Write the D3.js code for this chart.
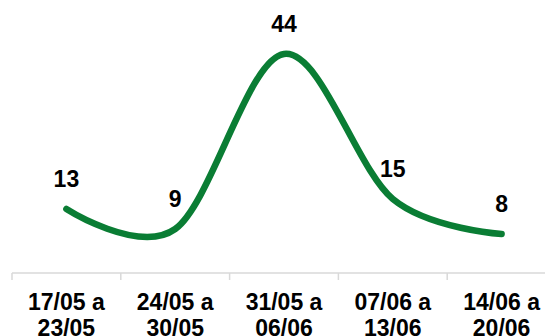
<!DOCTYPE html>
<html>
<head>
<meta charset="utf-8">
<script src="https://cdnjs.cloudflare.com/ajax/libs/d3/7.8.5/d3.min.js"></script>
<style>
  html, body { margin: 0; padding: 0; background: #fff; }
  svg { display: block; }
  text { font-family: "Liberation Sans", Arial, sans-serif; font-weight: bold; fill: #000; }
</style>
</head>
<body>
<svg id="chart" width="545" height="336"></svg>
<script>
// Weekly periods (two-line labels) and the count for each week
const periodStart = ["17/05 a", "24/05 a", "31/05 a", "07/06 a", "14/06 a"];
const periodEnd = ["23/05", "30/05", "06/06", "13/06", "20/06"];
const counts = [13, 9, 44, 15, 8];

const svg = d3.select("#chart");
const W = 545, H = 336;
const axisY = 273;

const x = d3.scaleBand()
  .domain(d3.range(periodStart.length))
  .range([12, 556])
  .paddingInner(0).paddingOuter(0);

const y = d3.scaleLinear().domain([0, 50]).range([274, 24]);

// Category axis: light baseline with ticks at band boundaries
const axisG = svg.append("g");
axisG.append("line")
  .attr("x1", x.range()[0]).attr("x2", x.range()[1])
  .attr("y1", axisY).attr("y2", axisY)
  .attr("stroke", "#d9d9d9").attr("stroke-width", 1.5);
const boundaries = d3.range(periodStart.length + 1).map(i => x.range()[0] + i * x.step());
axisG.selectAll(".tick").data(boundaries).join("line")
  .attr("class", "tick")
  .attr("x1", d => d).attr("x2", d => d)
  .attr("y1", axisY).attr("y2", axisY + 7)
  .attr("stroke", "#d9d9d9").attr("stroke-width", 1.5);

const labels = axisG.selectAll(".cat").data(periodStart).join("text")
  .attr("class", "cat")
  .attr("text-anchor", "middle")
  .attr("font-size", 23)
  .attr("x", (d, i) => x(i) + x.bandwidth() / 2)
  .attr("y", 310);
labels.append("tspan").text(d => d);
labels.append("tspan")
  .attr("x", (d, i) => x(i) + x.bandwidth() / 2)
  .attr("dy", 26)
  .text((d, i) => periodEnd[i]);

// Smoothed line
const line = d3.line()
  .x((d, i) => x(i) + x.bandwidth() / 2)
  .y(d => y(d))
  .curve(d3.curveCardinal.tension(0));

svg.append("path")
  .datum(counts)
  .attr("d", line)
  .attr("fill", "none")
  .attr("stroke", "#0a7d34")
  .attr("stroke-width", 6.5)
  .attr("stroke-linecap", "round")
  .attr("stroke-linejoin", "round");

// Value labels above each point
svg.selectAll(".val").data(counts).join("text")
  .attr("class", "val")
  .attr("text-anchor", "middle")
  .attr("font-size", 23)
  .attr("x", (d, i) => x(i) + x.bandwidth() / 2)
  .attr("y", d => y(d) - 22)
  .text(d => d);
</script>
</body>
</html>
